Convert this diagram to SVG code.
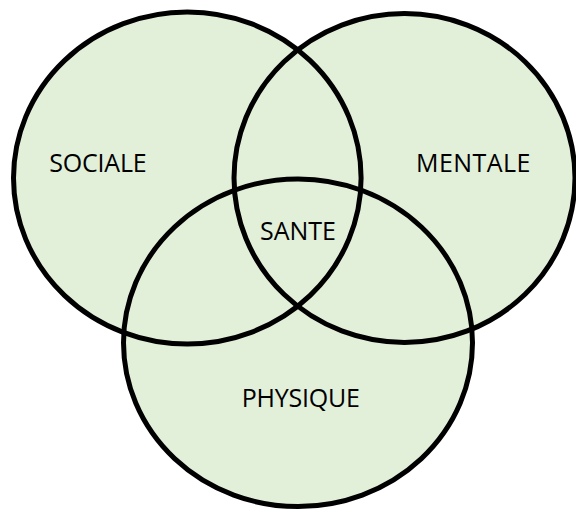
<svg xmlns="http://www.w3.org/2000/svg" width="576" height="511" viewBox="0 0 576 511">
<style>
.fill{fill:#E2EFD9;stroke:none}
.ring{fill:none;stroke:#000;stroke-width:5}
.lbl{font-family:"Open Sans","Liberation Sans",sans-serif;font-size:25px;fill:#000}
</style>
<rect width="576" height="511" fill="#fff"/>
<g id="fills">
<ellipse class="fill" cx="187.3" cy="178" rx="173.8" ry="166"/>
<ellipse class="fill" cx="404.5" cy="178" rx="170.5" ry="164.5"/>
<ellipse class="fill" cx="298" cy="342.8" rx="174.5" ry="163.8"/>
</g>
<g id="sociale">
<ellipse class="ring" cx="187.3" cy="178" rx="173.8" ry="166"/>
<text class="lbl" x="49.3" y="171.5" textLength="97.4">SOCIALE</text>
</g>
<g id="mentale">
<ellipse class="ring" cx="404.5" cy="178" rx="170.5" ry="164.5"/>
<text class="lbl" x="416" y="171.5" textLength="114.3">MENTALE</text>
</g>
<g id="physique">
<ellipse class="ring" cx="298" cy="342.8" rx="174.5" ry="163.8"/>
<text class="lbl" x="241.7" y="407.3" textLength="118.3">PHYSIQUE</text>
</g>
<g id="sante">
<text class="lbl" x="260" y="240" textLength="76">SANTE</text>
</g>
<g id="connectors"></g>
</svg>
